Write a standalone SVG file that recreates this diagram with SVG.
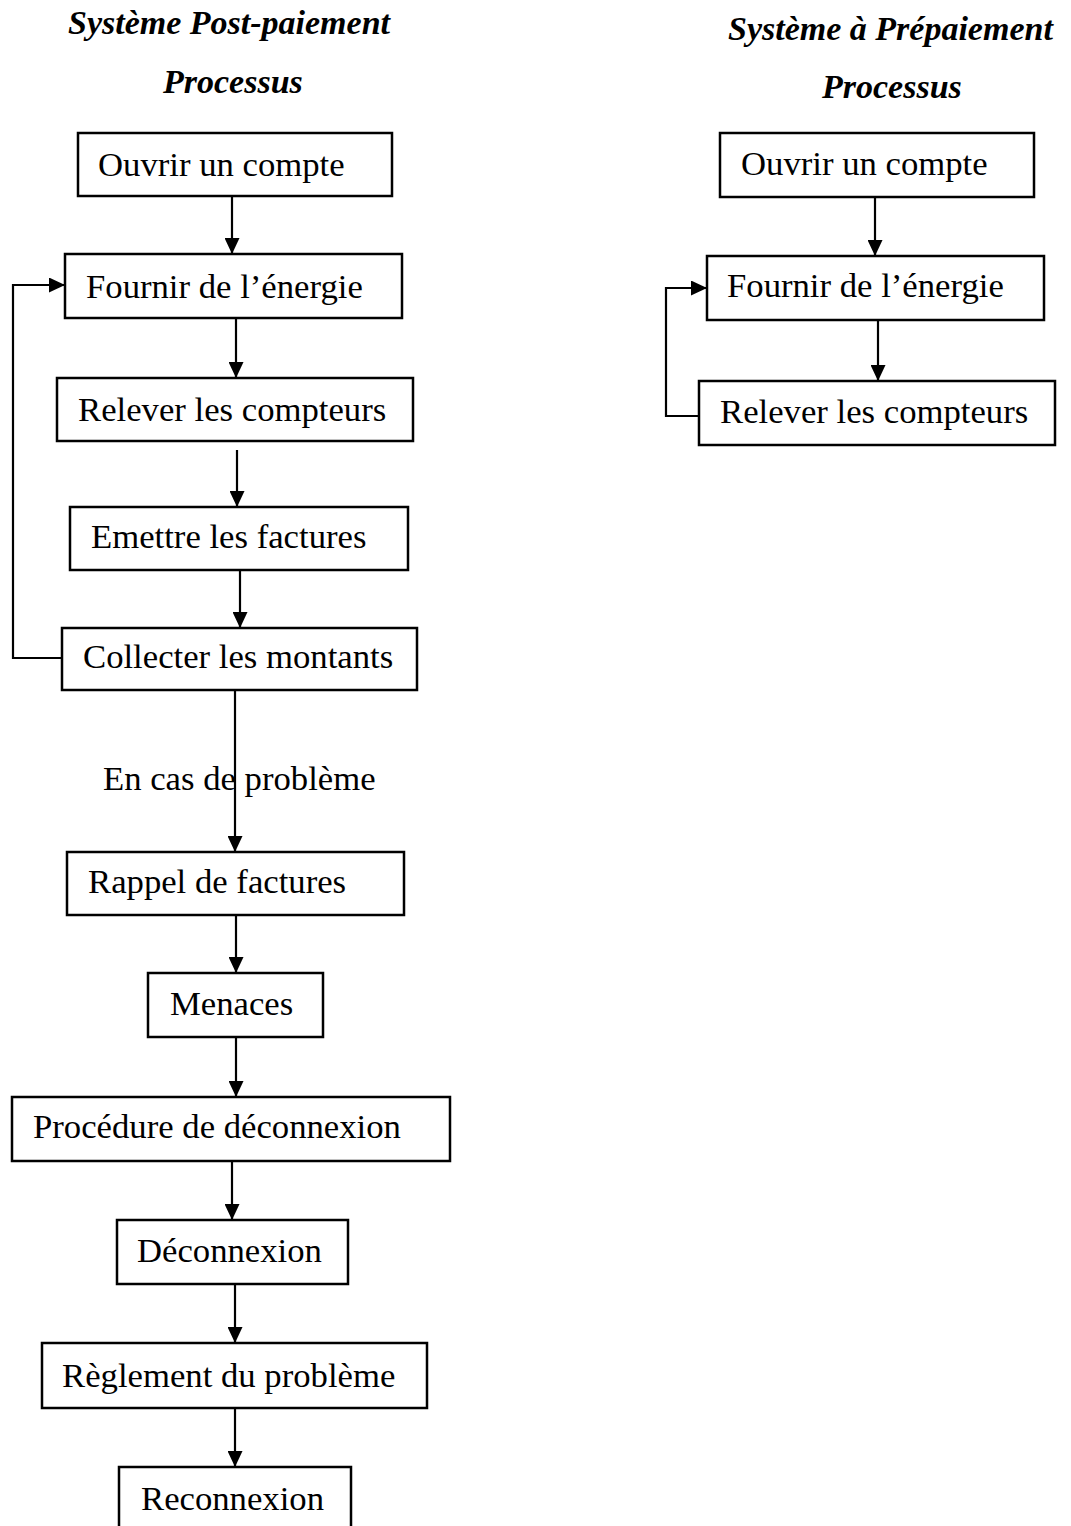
<svg xmlns="http://www.w3.org/2000/svg" width="1071" height="1526" viewBox="0 0 1071 1526">
<style>
.box{fill:#fff;stroke:#000;stroke-width:2.5}
.lbl{font-family:"Liberation Serif","Times New Roman",serif;font-size:34.7px;fill:#000}
.ttl{font-family:"Liberation Serif","Times New Roman",serif;font-size:34px;font-weight:bold;font-style:italic;fill:#000}
.con{fill:none;stroke:#000;stroke-width:2.2}
</style>
<defs>
<marker id="ah" markerUnits="userSpaceOnUse" markerWidth="16" markerHeight="15" refX="16" refY="7.5" orient="auto">
<path d="M0,0 L16,7.5 L0,15 z" fill="#000"/>
</marker>
</defs>
<rect width="1071" height="1526" fill="#fff"/>
<g id="titles">
<text class="ttl" x="68" y="34">Système Post-paiement</text>
<text class="ttl" x="163" y="93">Processus</text>
<text class="ttl" x="728" y="40">Système à Prépaiement</text>
<text class="ttl" x="822" y="98">Processus</text>
</g>
<g id="connectors">
<line class="con" x1="232" y1="196" x2="232" y2="254" marker-end="url(#ah)"/>
<line class="con" x1="236" y1="318" x2="236" y2="378" marker-end="url(#ah)"/>
<line class="con" x1="237" y1="450" x2="237" y2="507" marker-end="url(#ah)"/>
<line class="con" x1="240" y1="570" x2="240" y2="628" marker-end="url(#ah)"/>
<polyline class="con" points="62,658 13,658 13,285 65,285" marker-end="url(#ah)"/>
<line class="con" x1="235" y1="690" x2="235" y2="852" marker-end="url(#ah)"/>
<line class="con" x1="236" y1="915" x2="236" y2="973" marker-end="url(#ah)"/>
<line class="con" x1="236" y1="1037" x2="236" y2="1097" marker-end="url(#ah)"/>
<line class="con" x1="232" y1="1161" x2="232" y2="1220" marker-end="url(#ah)"/>
<line class="con" x1="235" y1="1284" x2="235" y2="1343" marker-end="url(#ah)"/>
<line class="con" x1="235" y1="1408" x2="235" y2="1467" marker-end="url(#ah)"/>
<line class="con" x1="875" y1="197" x2="875" y2="256" marker-end="url(#ah)"/>
<line class="con" x1="878" y1="320" x2="878" y2="381" marker-end="url(#ah)"/>
<polyline class="con" points="699,416 666,416 666,288 707,288" marker-end="url(#ah)"/>
<text class="lbl" x="103" y="790">En cas de problème</text>
</g>
<g id="n1"><rect class="box" x="78" y="133" width="314" height="63"/><text class="lbl" x="98" y="176">Ouvrir un compte</text></g>
<g id="n2"><rect class="box" x="65" y="254" width="337" height="64"/><text class="lbl" x="86" y="298">Fournir de l’énergie</text></g>
<g id="n3"><rect class="box" x="57" y="378" width="356" height="63"/><text class="lbl" x="78" y="421">Relever les compteurs</text></g>
<g id="n4"><rect class="box" x="70" y="507" width="338" height="63"/><text class="lbl" x="91" y="548">Emettre les factures</text></g>
<g id="n5"><rect class="box" x="62" y="628" width="355" height="62"/><text class="lbl" x="83" y="668">Collecter les montants</text></g>
<g id="n6"><rect class="box" x="67" y="852" width="337" height="63"/><text class="lbl" x="88" y="893">Rappel de factures</text></g>
<g id="n7"><rect class="box" x="148" y="973" width="175" height="64"/><text class="lbl" x="170" y="1015">Menaces</text></g>
<g id="n8"><rect class="box" x="12" y="1097" width="438" height="64"/><text class="lbl" x="33" y="1138">Procédure de déconnexion</text></g>
<g id="n9"><rect class="box" x="117" y="1220" width="231" height="64"/><text class="lbl" x="137" y="1262">Déconnexion</text></g>
<g id="n10"><rect class="box" x="42" y="1343" width="385" height="65"/><text class="lbl" x="62" y="1387">Règlement du problème</text></g>
<g id="n11"><rect class="box" x="119" y="1467" width="232" height="80"/><text class="lbl" x="141" y="1510">Reconnexion</text></g>
<g id="r1"><rect class="box" x="720" y="133" width="314" height="64"/><text class="lbl" x="741" y="175">Ouvrir un compte</text></g>
<g id="r2"><rect class="box" x="707" y="256" width="337" height="64"/><text class="lbl" x="727" y="297">Fournir de l’énergie</text></g>
<g id="r3"><rect class="box" x="699" y="381" width="356" height="64"/><text class="lbl" x="720" y="423">Relever les compteurs</text></g>
</svg>
